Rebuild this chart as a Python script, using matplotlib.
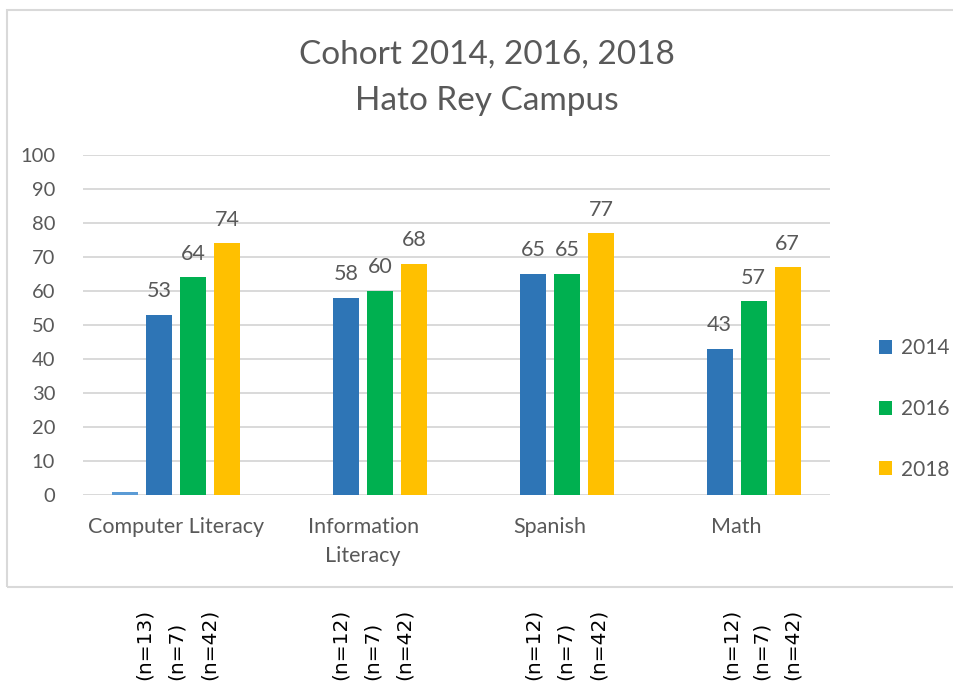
import matplotlib.pyplot as plt
import matplotlib.patches as mpatches
import matplotlib.transforms as mtransforms
import numpy as np

# datos
categorias = ["Computer Literacy", "Information\nLiteracy", "Spanish", "Math"]
serie_extra = [1, 0, 0, 0]
v2014 = [53, 58, 65, 43]
v2016 = [64, 60, 65, 57]
v2018 = [74, 68, 77, 67]
anios = ["2014", "2016", "2018"]
n_labels = [["(n=13)", "(n=7)", "(n=42)"],
            ["(n=12)", "(n=7)", "(n=42)"],
            ["(n=12)", "(n=7)", "(n=42)"],
            ["(n=12)", "(n=7)", "(n=42)"]]
# posicion de los textos n (relativa al centro de cada categoria)
n_offsets = [[-0.173, 0.0, 0.175],
             [-0.123, 0.048, 0.22],
             [-0.09, 0.08, 0.26],
             [-0.03, 0.134, 0.30]]

gris = "#595959"
colores = ["#2E75B6", "#00B050", "#FFC000"]
plt.rcParams['font.family'] = ['Lato', 'DejaVu Sans']

fig = plt.figure(figsize=(9.54, 6.81), dpi=100)
ax = fig.add_axes([83 / 954, 1 - 495 / 681, (830 - 83) / 954, (495 - 155) / 681])

x = np.arange(len(categorias))
ancho = 26 / 186.75
paso = 34 / 186.75

ax.bar(x - 1.5 * paso, serie_extra, ancho, color="#5B9BD5", zorder=3)
for i, vals in enumerate([v2014, v2016, v2018]):
    pos = x + (i - 0.5) * paso
    ax.bar(pos, vals, ancho, color=colores[i], label=anios[i], zorder=3)
    for px, v in zip(pos, vals):
        ax.annotate(str(v), (px, v), xytext=(0, 17), textcoords="offset points",
                    ha="center", va="center", fontsize=15.5, color=gris)

ax.set_xlim(-0.5, len(categorias) - 0.5)
ax.set_ylim(0, 100)
ax.set_yticks(range(0, 101, 10))
ax.set_xticks(x)
ax.set_xticklabels(categorias, fontsize=15.5, color=gris, linespacing=1.55)
ax.tick_params(axis="y", labelsize=14.5, labelcolor=gris, length=0, pad=20)
ax.tick_params(axis="x", length=0, pad=16)
ax.yaxis.grid(True, color="#D9D9D9", linewidth=1.4, zorder=0)
ax.set_axisbelow(True)
for s in ax.spines.values():
    s.set_visible(False)

fig.text(487 / 954, 1 - 55 / 681, "Cohort 2014, 2016, 2018", ha="center", va="center",
         fontsize=24, color=gris)
fig.text(487 / 954, 1 - 101 / 681, "Hato Rey Campus", ha="center", va="center",
         fontsize=24, color=gris)

fig.legend(loc="center left", bbox_to_anchor=(860 / 954, 1 - 409 / 681), frameon=False,
           fontsize=15, labelcolor=gris, handlelength=0.65, handleheight=0.65,
           handletextpad=0.4, labelspacing=1.95)

# borde del grafico
borde = mpatches.Rectangle((7 / 954, 1 - 587 / 681), 1.0, 577 / 681, transform=fig.transFigure,
                           fill=False, edgecolor="#D9D9D9", linewidth=1.5, clip_on=False)
fig.patches.append(borde)

# textos (n=..) debajo del grafico
trans = mtransforms.blended_transform_factory(ax.transData, fig.transFigure)
for i, (etiquetas, offs) in enumerate(zip(n_labels, n_offsets)):
    for et, o in zip(etiquetas, offs):
        fig.text(x[i] + o, 0.002, et, transform=trans, rotation=90, ha="center", va="bottom",
                 fontsize=14.5, color="black", family="DejaVu Sans")

fig.savefig("out.png", dpi=100)
